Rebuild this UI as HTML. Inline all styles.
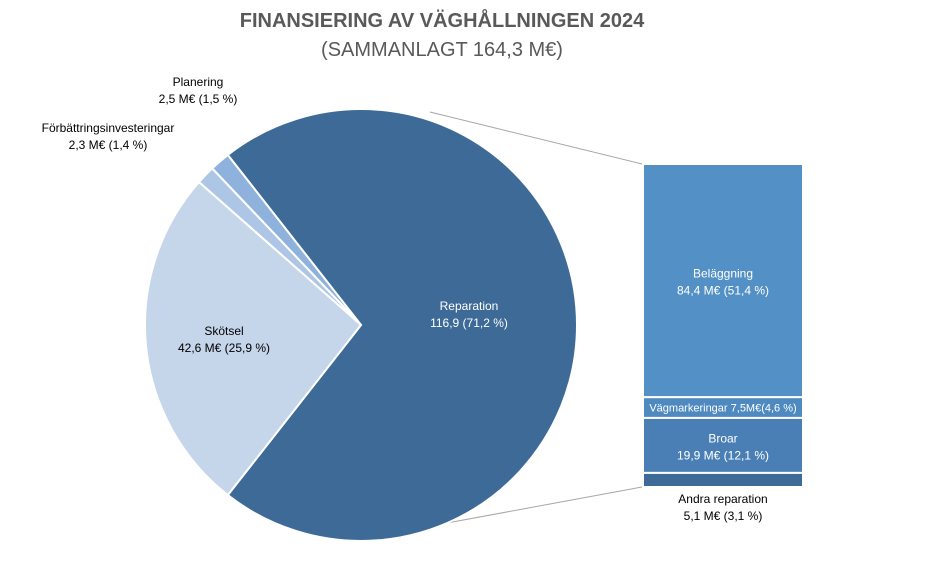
<!DOCTYPE html>
<html><head><meta charset="utf-8"><style>
body{margin:0;background:#fff;font-family:"Liberation Sans",sans-serif}
svg text{font-family:"Liberation Sans",sans-serif}
</style></head><body>
<svg id="c" width="935" height="558">
<text x="442" y="27" text-anchor="middle" font-size="20" font-weight="bold" fill="#595959">FINANSIERING AV VÄGHÅLLNINGEN 2024</text>
<text x="442" y="56" text-anchor="middle" font-size="20" fill="#595959">(SAMMANLAGT 164,3 M€)</text>
<line x1="430" y1="112" x2="642" y2="164" stroke="#a6a6a6" stroke-width="1"/>
<line x1="420" y1="528" x2="642" y2="487" stroke="#a6a6a6" stroke-width="1"/>
<g id="pie"></g><g id="bar"></g><g id="labels"></g>
</svg>
<script>
const pieNames=["Reparation","Planering","Förbättringsinvesteringar","Skötsel"];
const pieValues=[116.9,2.5,2.3,42.6];
const pieLabels=["116,9 (71,2 %)","2,5 M€ (1,5 %)","2,3 M€ (1,4 %)","42,6 M€ (25,9 %)"];
const pieColors=["#3d6a96","#8fb2dd","#aec6e6","#c5d5ea"];
const barNames=["Beläggning","Vägmarkeringar","Broar","Andra reparation"];
const barValues=[84.4,7.5,19.9,5.1];
const barLabels=["84,4 M€ (51,4 %)","7,5M€(4,6 %)","19,9 M€ (12,1 %)","5,1 M€ (3,1 %)"];
const barColors=["#5390c5","#4e89c0","#4a7fb5","#3e6a98"];
const NS="http://www.w3.org/2000/svg";
function mk(t,a,p){const e=document.createElementNS(NS,t);for(const k in a)e.setAttribute(k,a[k]);p.appendChild(e);return e;}
const cx=361,cy=325,r=216;
const pieTotal=pieValues.reduce((a,b)=>a+b,0);
const pie=document.getElementById('pie');
// Reparation centred on east; others follow counterclockwise
let start=-(pieValues[0]/pieTotal)*Math.PI; // svg angle (clockwise positive), start at top-left boundary going clockwise... compute
// Use math angles (ccw): reparation from -half to +half
let a0=-(pieValues[0]/pieTotal)*Math.PI;
for(let i=0;i<pieValues.length;i++){
 const sw=pieValues[i]/pieTotal*2*Math.PI;
 const a1=a0+sw;
 const x0=cx+r*Math.cos(a0),y0=cy-r*Math.sin(a0),x1=cx+r*Math.cos(a1),y1=cy-r*Math.sin(a1);
 const p=mk('path',{d:`M${cx},${cy}L${x0},${y0}A${r},${r} 0 ${sw>Math.PI?1:0} 0 ${x1},${y1}Z`,fill:pieColors[i],stroke:'#fff','stroke-width':2},pie);
 
 
 a0=a1;
}
const bar=document.getElementById('bar');
const bx=643,bw=160,by=164,bh=323;
const barTotal=barValues.reduce((a,b)=>a+b,0);
let y=by;
const segs=[];
for(let i=0;i<barValues.length;i++){
 const h=barValues[i]/barTotal*bh;
 const rc=mk('rect',{x:bx,y:y,width:bw,height:h,fill:barColors[i],stroke:'#fff','stroke-width':2},bar);
 
 
 segs.push([y,h]);y+=h;
}
const L=document.getElementById('labels');
function lbl(x,y,lines,fill,size,name){
 const t=mk('text',{x:x,y:y,'text-anchor':'middle','font-size':size||12,fill:fill},L);
 
 
 lines.forEach((s,k)=>{const ts=mk('tspan',{x:x,dy:k?17:0},t);ts.textContent=s;});
}
lbl(469,310,[pieNames[0],pieLabels[0]],'#fff',12,'label-reparation');
lbl(224,335,[pieNames[3],pieLabels[3]],'#000',12,'label-skotsel');
lbl(198,86,[pieNames[1],pieLabels[1]],'#000',12,'label-planering');
lbl(108,132,[pieNames[2],pieLabels[2]],'#000',12,'label-forbattring');
lbl(bx+bw/2,segs[0][0]+segs[0][1]/2-3,[barNames[0],barLabels[0]],'#fff',12,'label-belaggning');
lbl(bx+bw/2,segs[1][0]+segs[1][1]/2+4,[barNames[1]+' '+barLabels[1]],'#fff',11,'label-vagmarkeringar');
lbl(bx+bw/2,segs[2][0]+segs[2][1]/2-3,[barNames[2],barLabels[2]],'#fff',12,'label-broar');
lbl(bx+bw/2,by+bh+16,[barNames[3],barLabels[3]],'#000',12,'label-andra-reparation');
</script>
</body></html>
